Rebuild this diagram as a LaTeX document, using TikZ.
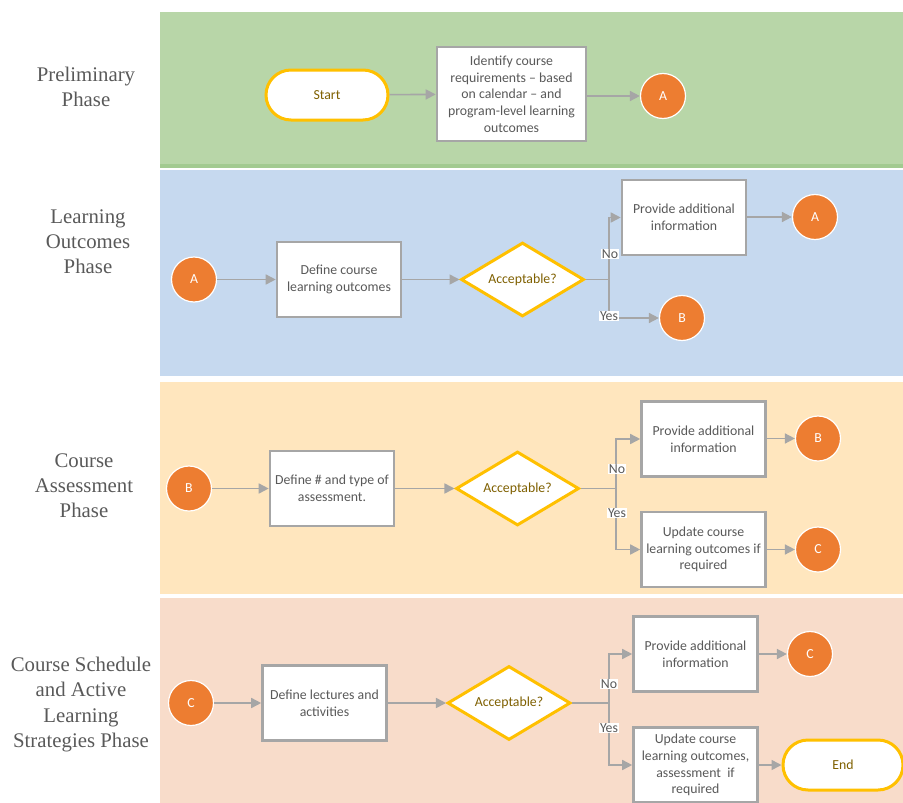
\documentclass[tikz,border=0pt]{standalone}
\usepackage{fontspec}
\setmainfont{Carlito}
\newfontfamily\phasefont{Liberation Serif}
\usepackage{xcolor}
\usepackage{tikz}
\usetikzlibrary{shapes,arrows.meta}
\definecolor{bandGreen}{HTML}{B8D6A8}
\definecolor{bandGreenEdge}{HTML}{A2CA90}
\definecolor{bandBlue}{HTML}{C6D9EF}
\definecolor{bandYellow}{HTML}{FFE6BE}
\definecolor{bandPeach}{HTML}{F8DCCA}
\definecolor{boxGray}{HTML}{A6A6A6}
\definecolor{textGray}{HTML}{595959}
\definecolor{termGold}{HTML}{FFC000}
\definecolor{termText}{HTML}{7F6000}
\definecolor{connOrange}{HTML}{ED7D31}
\tikzstyle{tsText} = [ 
    text=textGray, 
    font=\fontsize{13.8}{16.7}\selectfont,
    align=center
]
\tikzstyle{tsRectangle} = [ 
    rectangle,
    tsText,
    draw=boxGray,
    line width=2.6pt,
    fill=white,
    minimum width=124pt,
    minimum height=75pt
]
\tikzstyle{tsTerminal} = [ 
    rectangle,
    rounded corners=25pt,
    tsText,
    text=termText,
    draw=termGold,
    line width=3pt,
    fill=white,
    minimum width=122pt,
    minimum height=50pt
]
\tikzstyle{tsDecision} = [ 
    diamond,
    aspect=1.66,
    inner sep=0pt,
    tsText,
    text=termText,
    draw=termGold,
    line width=3pt,
    fill=white,
    minimum width=123pt,
    minimum height=74pt
]
\tikzstyle{tsCircle} = [ 
    circle,
    inner sep=0pt,
    tsText,
    text=white,
    fill=connOrange,
    draw=white,
    line width=1.2pt,
    minimum size=45pt
]
\tikzstyle{tsArrow} = [ 
    draw=boxGray,
    line width=1.6pt,
    -{Triangle[length=10pt, width=10pt]}
]
\tikzstyle{tsLine} = [ 
    draw=boxGray,
    line width=1.6pt
]
\tikzstyle{tsAnswer} = [ 
    tsText,
    fill=white,
    inner sep=1pt
]
\tikzstyle{tsPhase} = [ 
    text=textGray,
    font=\phasefont\fontsize{20.8}{25.2}\selectfont,
    align=center
]
\begin{document}
\begin{tikzpicture}[x=1pt, y=-1pt]

    \useasboundingbox (0,0) rectangle (903,803);

    % phase bands
    \fill[bandGreen] (160,12) rectangle (903,165);
    \fill[bandGreenEdge] (160,164) rectangle (903,167.5);
    \fill[bandBlue] (160,169.5) rectangle (903,376);
    \fill[bandYellow] (160,382) rectangle (903,594);
    \fill[bandPeach] (160,597.5) rectangle (903,803);

    \node[tsPhase] (prelim) at (86,87) {Preliminary\\Phase};
    \node[tsPhase] (outcomes) at (88,242) {Learning\\Outcomes\\Phase};
    \node[tsPhase] (assess) at (84,485.5) {Course\\Assessment\\Phase};
    \node[tsPhase] (schedule) at (81,704.5) {Course Schedule\\and Active\\Learning\\Strategies Phase};

    % preliminary phase
    \node[tsTerminal] (start) at (327,95) {Start};
    \node[tsRectangle,
            minimum width=149pt,
            minimum height=94pt] (identify) at (511.5,94)
            {Identify course\\requirements -- based\\on calendar -- and\\program-level learning\\outcomes};
    \node[tsCircle] (a1) at (663,96) {A};

    \draw[tsArrow] (start) -- (identify);
    \draw[tsArrow] (identify.east |- a1) -- (a1);

    % learning outcomes phase
    \node[tsCircle] (a2) at (194,279.5) {A};
    \node[tsRectangle] (defout) at (339,279.5) {Define course\\learning outcomes};
    \node[tsDecision] (dec2) at (522.5,279.5) {Acceptable?};
    \node[tsRectangle] (prov2) at (684,217.5) {Provide additional\\information};
    \node[tsCircle] (a3) at (815,217) {A};
    \node[tsCircle] (b1) at (682,318) {B};
    \coordinate (j2) at (609,279.5);

    \draw[tsArrow] (a2) -- (defout);
    \draw[tsArrow] (defout) -- (dec2);
    \draw[tsLine] (dec2.east) -- (j2);
    \draw[tsArrow] (j2) |- (prov2.west);
    \draw[tsArrow] (j2) |- (b1.west);
    \draw[tsArrow] (prov2.east |- a3) -- (a3);
    \node[tsAnswer] (no2) at (610,254) {No};
    \node[tsAnswer] (yes2) at (609,316) {Yes};

    % course assessment phase
    \node[tsCircle] (b2) at (189,488.5) {B};
    \node[tsRectangle] (defass) at (332,488.5) {Define \# and type of\\assessment.};
    \node[tsDecision] (dec3) at (517.5,488.5) {Acceptable?};
    \node[tsRectangle] (prov3) at (703.5,439) {Provide additional\\information};
    \node[tsCircle] (b3) at (818,438.5) {B};
    \node[tsRectangle] (upd3) at (703.5,549.5) {Update course\\learning outcomes if\\required};
    \node[tsCircle] (c1) at (818,549.5) {C};
    \coordinate (j3) at (616,488.5);

    \draw[tsArrow] (b2) -- (defass);
    \draw[tsArrow] (defass) -- (dec3);
    \draw[tsLine] (dec3.east) -- (j3);
    \draw[tsArrow] (j3) |- (prov3.west);
    \draw[tsArrow] (j3) |- (upd3.west);
    \draw[tsArrow] (prov3.east |- b3) -- (b3);
    \draw[tsArrow] (upd3.east |- c1) -- (c1);
    \node[tsAnswer] (no3) at (617,469) {No};
    \node[tsAnswer] (yes3) at (617,513) {Yes};

    % course schedule phase
    \node[tsCircle] (c2) at (191,703) {C};
    \node[tsRectangle] (deflec) at (324.5,703) {Define lectures and\\activities};
    \node[tsDecision] (dec4) at (509,703) {Acceptable?};
    \node[tsRectangle] (prov4) at (695.5,654) {Provide additional\\information};
    \node[tsCircle] (c3) at (810,654) {C};
    \node[tsRectangle] (upd4) at (695.5,765) {Update course\\learning outcomes,\\assessment\ \ if\\required};
    \node[tsTerminal,
            minimum width=120pt] (finish) at (843,765) {End};
    \coordinate (j4) at (609,703);

    \draw[tsArrow] (c2) -- (deflec);
    \draw[tsArrow] (deflec) -- (dec4);
    \draw[tsLine] (dec4.east) -- (j4);
    \draw[tsArrow] (j4) |- (prov4.west);
    \draw[tsArrow] (j4) |- (upd4.west);
    \draw[tsArrow] (prov4.east |- c3) -- (c3);
    \draw[tsArrow] (upd4) -- (finish);
    \node[tsAnswer] (no4) at (609,684) {No};
    \node[tsAnswer] (yes4) at (609,728) {Yes};

\end{tikzpicture}
\end{document}
